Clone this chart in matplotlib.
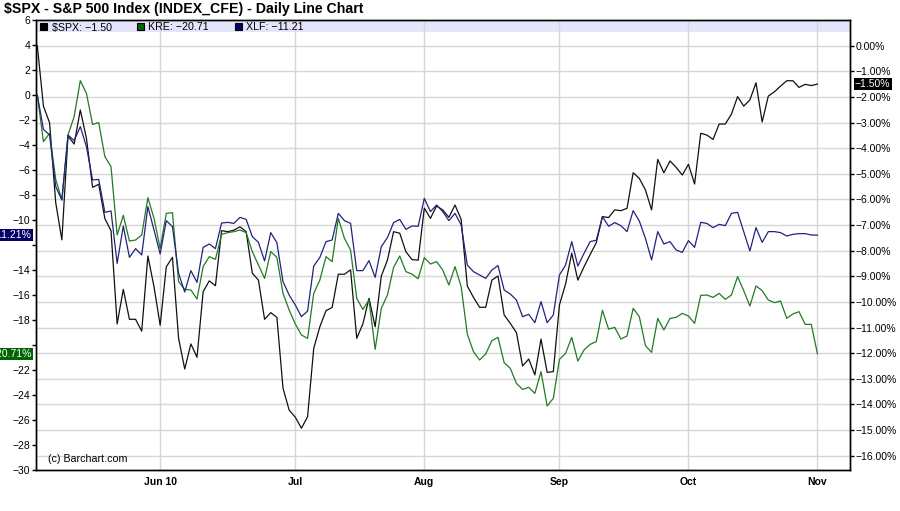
import matplotlib
matplotlib.use("Agg")
import matplotlib.pyplot as plt
from matplotlib.patches import Rectangle
import numpy as np

plt.rcParams['font.family'] = ['Liberation Sans', 'DejaVu Sans']

# daily % change since May 3 2010, one value per trading day (May 3 .. Nov 1)
spx = [0.0, -2.36, -3.01, -6.13, -7.58, -3.53, -3.84, -2.51, -3.62, -5.53,
       -5.41, -6.75, -7.22, -10.86, -9.51, -10.68, -10.68, -11.14, -8.21, -9.41,
       -10.91, -8.63, -8.26, -11.42, -12.62, -11.64, -12.16, -9.60, -9.18, -9.37,
       -7.22, -7.26, -7.20, -7.07, -7.26, -8.88, -9.15, -10.68, -10.42, -10.60,
       -13.37, -14.22, -14.50, -14.93, -14.48, -11.81, -10.97, -10.34, -10.22, -8.92,
       -8.92, -8.75, -11.42, -10.86, -9.86, -10.97, -8.99, -8.37, -7.26, -7.32,
       -8.04, -8.35, -8.37, -6.34, -6.74, -6.26, -6.41, -6.70, -6.22, -6.78,
       -9.38, -9.82, -10.21, -10.21, -9.15, -8.99, -10.51, -10.84, -11.20, -12.50,
       -12.23, -12.85, -11.45, -12.75, -12.72, -10.12, -9.30, -8.10, -9.15, -8.63,
       -8.15, -7.69, -6.67, -6.71, -6.41, -6.44, -6.35, -4.96, -5.18, -5.63,
       -6.41, -4.44, -4.96, -4.50, -4.75, -5.05, -4.63, -5.40, -3.42, -3.49,
       -3.66, -3.06, -3.06, -2.67, -1.99, -2.36, -2.12, -1.45, -2.98, -1.97,
       -1.80, -1.58, -1.37, -1.37, -1.63, -1.51, -1.56, -1.50]

kre = [0.0, -3.73, -3.07, -6.75, -8.40, -3.20, -1.73, 1.15, 0.13, -2.35,
       -2.21, -4.93, -5.73, -11.20, -9.63, -11.68, -11.60, -11.20, -8.21, -9.87,
       -12.27, -9.47, -9.41, -14.93, -15.55, -15.60, -16.32, -13.73, -12.93, -13.15,
       -11.15, -11.01, -10.93, -10.80, -11.01, -12.53, -13.60, -14.67, -12.53, -12.99,
       -15.87, -17.20, -18.32, -19.20, -19.47, -15.87, -14.80, -12.93, -13.33, -9.87,
       -11.47, -12.40, -16.27, -17.15, -16.40, -20.35, -17.07, -16.00, -13.79, -12.88,
       -14.13, -14.33, -14.70, -13.01, -13.52, -13.33, -14.00, -15.20, -13.73, -15.33,
       -19.12, -20.53, -21.20, -20.72, -19.65, -19.39, -21.41, -21.87, -23.07, -23.55,
       -23.39, -23.87, -22.13, -24.88, -24.27, -21.15, -20.67, -19.39, -21.28, -20.40,
       -19.95, -19.73, -17.22, -18.73, -18.59, -19.52, -19.28, -17.07, -17.73, -20.05,
       -20.59, -17.87, -18.80, -17.87, -17.79, -17.47, -17.68, -18.27, -16.03, -16.00,
       -16.19, -15.87, -16.35, -16.00, -14.53, -15.65, -16.88, -15.28, -15.65, -16.40,
       -16.61, -16.48, -17.87, -17.52, -17.33, -18.35, -18.35, -20.71]

xlf = [0.0, -2.75, -3.20, -7.33, -8.40, -3.20, -3.65, -2.53, -4.13, -6.80,
       -6.75, -9.39, -9.28, -13.47, -10.48, -12.99, -12.29, -12.80, -8.93, -10.80,
       -12.72, -10.05, -10.53, -14.27, -15.76, -14.05, -14.99, -12.19, -11.92, -12.29,
       -10.24, -10.19, -10.27, -9.79, -9.95, -11.33, -11.79, -13.28, -11.01, -11.81,
       -14.93, -16.00, -16.80, -17.73, -17.28, -13.68, -12.99, -11.73, -11.60, -9.47,
       -10.05, -10.27, -14.05, -14.05, -13.25, -14.59, -12.13, -11.41, -10.21, -9.95,
       -10.75, -10.48, -10.50, -8.27, -9.33, -8.80, -9.33, -10.05, -9.47, -10.40,
       -13.60, -14.13, -14.40, -14.67, -14.00, -13.65, -15.60, -15.92, -16.40, -17.73,
       -17.55, -18.21, -16.53, -18.21, -17.60, -14.40, -13.60, -11.73, -13.68, -12.67,
       -11.73, -11.62, -9.73, -10.50, -10.21, -10.45, -10.93, -9.25, -10.08, -11.47,
       -13.20, -10.93, -11.92, -11.73, -12.40, -12.59, -11.65, -12.19, -10.19, -10.27,
       -10.61, -10.35, -10.45, -9.47, -9.39, -10.93, -12.48, -10.61, -11.79, -10.93,
       -10.93, -11.01, -11.28, -11.15, -11.09, -11.09, -11.20, -11.21]

month_pos = [20, 42, 63, 85, 106, 127]
month_labels = ["Jun 10", "Jul", "Aug", "Sep", "Oct", "Nov"]

left_ticks = list(range(-30, 7, 2))
right_ticks = list(range(0, -17, -1))

c_spx = "#111111"
c_kre = "#237a23"
c_xlf = "#23237e"
c_kre_box = "#006400"
c_xlf_box = "#000066"
grid_c = "#d6d6d6"


def minus(s):
    return s.replace("-", "\u2212")


fig = plt.figure(figsize=(9, 5.11), dpi=100)
ax = fig.add_axes([35.7 / 900, 41 / 511, 814.3 / 900, 450 / 511])
ax2 = ax.twinx()
ax.set_zorder(ax2.get_zorder() + 1)
ax.patch.set_visible(False)

x = np.arange(len(spx))

# background: band, grid, SPX on the right (percent) axis
ax2.add_patch(Rectangle((0, 1 - 12.5 / 450), 1, 12.5 / 450, transform=ax2.transAxes,
                        facecolor="#e4e4fa", edgecolor="none", zorder=0.2))
ax2.set_axisbelow(True)
ax2.grid(axis="y", color=grid_c, lw=1.0)
for m in month_pos:
    ax2.axvline(m, color=grid_c, lw=1.0, zorder=0.5)
ax2.plot(x, spx, color=c_spx, lw=0.9, zorder=3)

ax.plot(x, kre, color=c_kre, lw=0.9, zorder=3)
ax.plot(x, xlf, color=c_xlf, lw=0.9, zorder=3)

ax.set_xlim(-0.26, 132.3)
ax.set_ylim(-30, 6)
ax2.set_ylim(-16.56, 1.0)

ax.set_yticks(left_ticks)
ax.set_yticklabels(["" if t in (-12, -20) else minus(str(t)) for t in left_ticks])
ax2.set_yticks(right_ticks)
ax2.set_yticklabels([minus(f"{t:.2f}%") if t else "0.00%" for t in right_ticks])
ax.set_xticks(month_pos)
ax.set_xticklabels(month_labels, fontweight="bold")

ax.tick_params(axis="y", length=3, width=1, pad=1, labelsize=7.5, colors="black")
ax2.tick_params(axis="y", length=3, width=1, pad=1, labelsize=7.5, colors="black")
ax.tick_params(axis="x", length=0, pad=5, labelsize=7.5)
for a in (ax, ax2):
    for s in a.spines.values():
        s.set_linewidth(1.0)
        s.set_color("black")

# last-value badges
yt = ax.get_yaxis_transform()
ax.annotate(minus(f"{xlf[-1]:.2f}%"), xy=(0, xlf[-1]), xycoords=yt, xytext=(-4, 0),
            textcoords="offset pixels", ha="right", va="center", color="white", fontsize=7.5,
            bbox=dict(boxstyle="square,pad=0.12", fc=c_xlf_box, ec="none"))
ax.annotate(minus(f"{kre[-1]:.2f}%"), xy=(0, kre[-1]), xycoords=yt, xytext=(-4, 0),
            textcoords="offset pixels", ha="right", va="center", color="white", fontsize=7.5,
            bbox=dict(boxstyle="square,pad=0.12", fc=c_kre_box, ec="none"))
ax2.annotate(minus(f"{spx[-1]:.2f}%"), xy=(1, spx[-1]), xycoords=ax2.get_yaxis_transform(),
             xytext=(5, 0), textcoords="offset pixels", ha="left", va="center", color="white",
             fontsize=7.5, bbox=dict(boxstyle="square,pad=0.12", fc="black", ec="none"))

# title, legend row, watermark
fig.text(4 / 900, 1 - 13 / 511, r"\$SPX - S&P 500 Index (INDEX_CFE) - Daily Line Chart",
         fontsize=10.2, fontweight="bold", va="baseline", ha="left")
legend = [(r"\$SPX: " + minus(f"{spx[-1]:.2f}"), "black", 40),
          ("KRE: " + minus(f"{kre[-1]:.2f}"), c_kre_box, 137),
          ("XLF: " + minus(f"{xlf[-1]:.2f}"), c_xlf_box, 235)]
for lab, col, px in legend:
    fig.patches.append(Rectangle((px / 900, 1 - 30.5 / 511), 6.5 / 900, 7 / 511,
                                 transform=fig.transFigure, facecolor=col,
                                 edgecolor="black", lw=0.8, figure=fig))
    fig.text((px + 11.5) / 900, 1 - 30.5 / 511, lab, fontsize=7.7, va="baseline", ha="left")
fig.text(48 / 900, 1 - 461.5 / 511, "(c) Barchart.com", fontsize=7.7, va="baseline", ha="left")

fig.savefig("out.png", dpi=100)
